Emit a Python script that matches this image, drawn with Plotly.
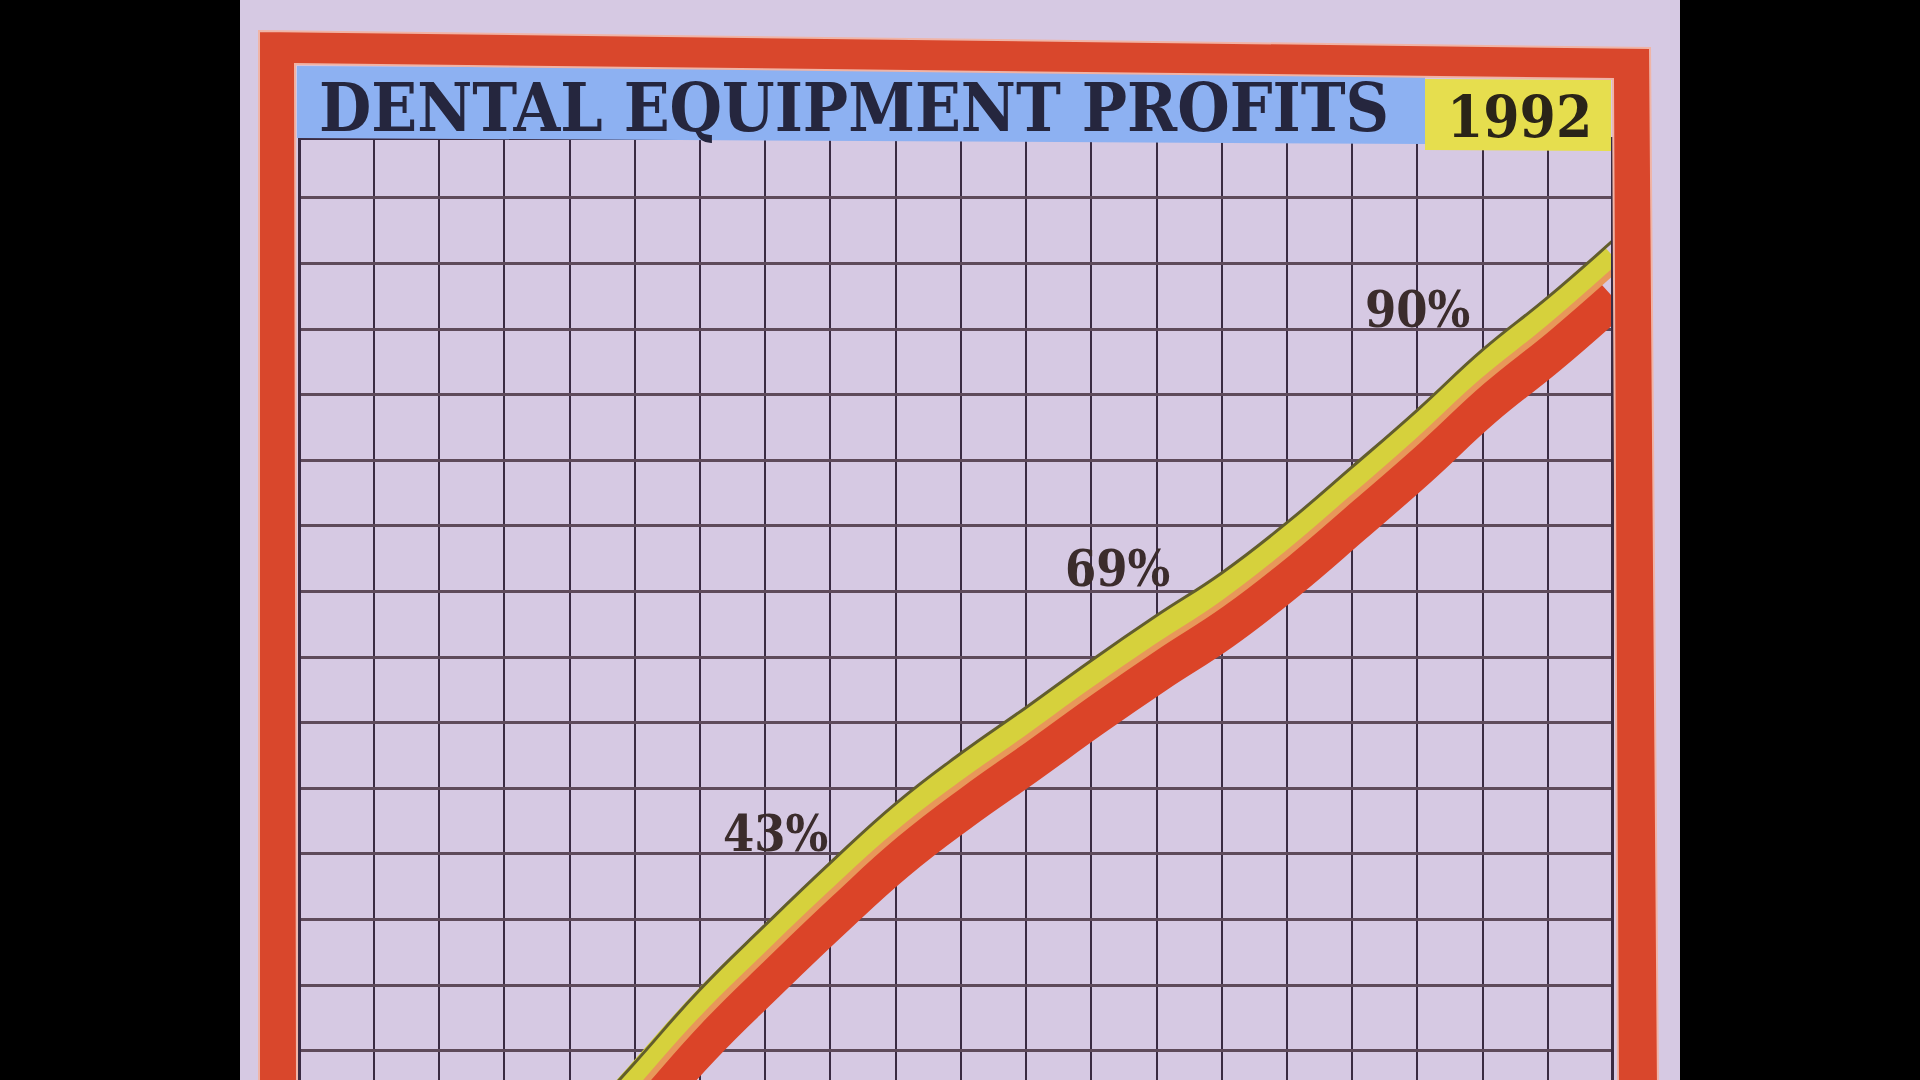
import plotly.graph_objects as go

W, H = 1920, 1080

# profit curve: period (grid column) -> percent
periods = [4, 5, 6, 7, 8, 9, 10, 11, 12, 13, 14, 15, 16, 17, 18, 19, 20]
profits = [18.9, 25.5, 32.2, 38.1, 43.8, 49.2, 53.8, 58.0, 62.3, 66.4, 70.3, 74.9, 80.0, 85.2, 90.7, 95.5, 100.7]

# hand-lettered labels on the chart
label_text = ["43%", "69%", "90%"]
label_x = [7.99, 13.24, 17.84]
label_y = [49.9, 74.1, 97.8]

title = "DENTAL EQUIPMENT PROFITS"
year = "1992"

SERIF = "DejaVu Serif Condensed, DejaVu Serif, serif"


def fx(x):
    return x / W


def fy(y):
    return 1 - y / H


def poly(pts):
    return "M " + " L ".join("%.5f,%.5f" % (fx(x), fy(y)) for x, y in pts) + " Z"


fig = go.Figure()

# the drawn band: red underneath, yellow on top, dark ink edge
band = [
    ("#db4428", 41, -1.78),
    ("#d6d13c", 25, 1.97),
    ("#e8975a", 6, 0.55),
    ("#625d2c", 3, 3.40),
]
for color, width, shift in band:
    fig.add_trace(go.Scatter(
        x=periods, y=[v + shift for v in profits], mode="lines",
        line=dict(color=color, width=width, shape="spline", smoothing=1.3),
        hoverinfo="skip", showlegend=False,
    ))

for t, x, y in zip(label_text, label_x, label_y):
    fig.add_annotation(x=x, y=y, xref="x", yref="y", text=t, showarrow=False,
                       xanchor="right", yanchor="middle",
                       font=dict(family=SERIF, size=50, color="#3b2c2c", weight="bold"))

shapes = [
    # lavender card
    dict(type="rect", xref="paper", yref="paper", x0=fx(240), x1=fx(1680), y0=0, y1=1,
         fillcolor="#d6c9e3", line_width=0, layer="below"),
    # title band
    dict(type="path", xref="paper", yref="paper",
         path=poly([(297, 66), (1425, 72), (1425, 144), (297, 138)]),
         fillcolor="#8db1f2", line_width=0, layer="above"),
    dict(type="path", xref="paper", yref="paper",
         path=poly([(1425, 79), (1611, 80), (1611, 151), (1425, 150)]),
         fillcolor="#e6de4e", line_width=0, layer="above"),
    # red frame
    dict(type="path", xref="paper", yref="paper",
         path=poly([(259, 31), (1650, 48), (1658, 1090), (259, 1090)]) + " "
         + poly([(295, 64), (1613, 79), (1618, 1090), (297, 1090)]),
         fillrule="evenodd", fillcolor="#d9472c",
         line=dict(color="#f0b4a6", width=2), layer="above"),
]

fig.add_annotation(x=fx(317), y=fy(107), xref="paper", yref="paper", text=title,
                   showarrow=False, xanchor="left", yanchor="middle",
                   font=dict(family=SERIF, size=67, color="#25263e", weight="bold"))
fig.add_annotation(x=fx(1519), y=fy(117), xref="paper", yref="paper", text=year,
                   showarrow=False, xanchor="center", yanchor="middle",
                   font=dict(family=SERIF, size=58, color="#2a2418", weight="bold"))

fig.update_layout(
    width=W, height=H,
    margin=dict(l=0, r=0, t=0, b=0, pad=0),
    paper_bgcolor="#000000",
    plot_bgcolor="#cdbddd",
    shapes=shapes,
    showlegend=False,
    xaxis=dict(domain=[fx(301), fx(1611)], range=[-0.12, 19.97],
               tickmode="array", tickvals=list(range(1, 20)),
               showticklabels=False, ticks="", zeroline=False,
               showgrid=True, gridcolor="#3a2b42", gridwidth=2,
               showline=True, mirror=True, linecolor="#3a2b42", linewidth=3),
    yaxis=dict(domain=[0, fy(140)], range=[27.32, 113.3],
               tick0=0, dtick=6,
               showticklabels=False, ticks="", zeroline=False,
               showgrid=True, gridcolor="#5e4a5a", gridwidth=3,
               showline=True, mirror=True, linecolor="#3a2b42", linewidth=3),
)

fig.write_html("out.html", config={"displayModeBar": False},
               post_script="document.body.style.margin='0px';")
